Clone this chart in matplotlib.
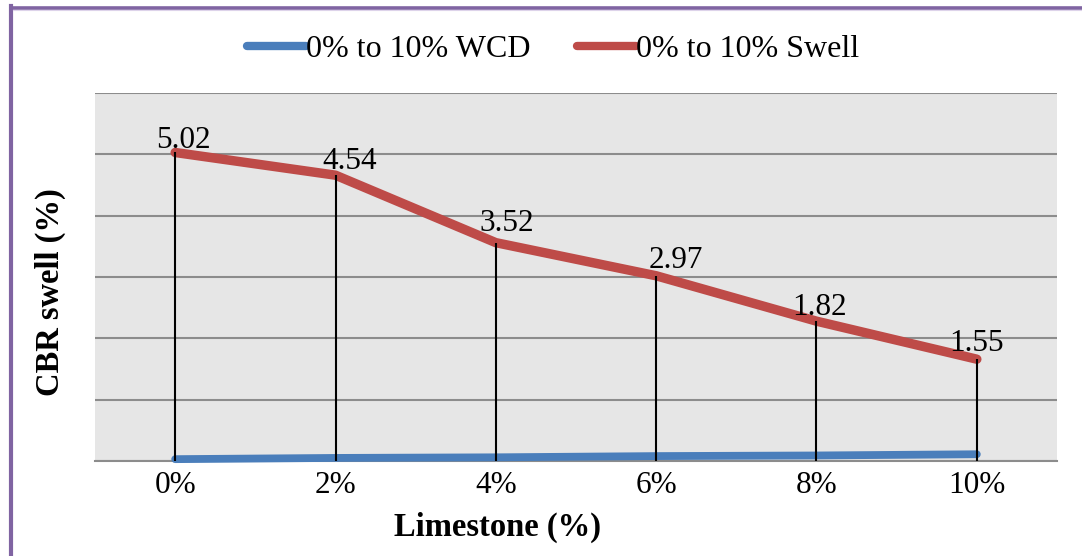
import matplotlib
matplotlib.use("Agg")
import matplotlib.pyplot as plt
from matplotlib.lines import Line2D

# ---- data ----
categories = ["0%", "2%", "4%", "6%", "8%", "10%"]
wcd_values = [0.03, 0.05, 0.06, 0.08, 0.09, 0.11]
swell_values = [5.03, 4.66, 3.56, 3.02, 2.28, 1.66]   # drawn positions
swell_labels = ["5.02", "4.54", "3.52", "2.97", "1.82", "1.55"]
series_names = ["0% to 10% WCD", "0% to 10% Swell"]
x_title = "Limestone (%)"
y_title = "CBR swell (%)"

# label offsets (pixels) relative to each point
label_offsets = [(8, 12), (14, 14), (11, 19), (20, 15), (3, 14), (0, 16)]

plt.rcParams['font.family'] = ['Liberation Serif', 'DejaVu Serif']
FS = 22.5

W, H = 1082, 556
fig = plt.figure(figsize=(W / 100, H / 100), dpi=100)
ax = fig.add_axes([95 / W, 1 - 461 / H, (1057 - 95) / W, (461 - 93) / H])
ax.set_facecolor("#e6e6e6")

x = list(range(len(categories)))
ax.set_xlim(-0.5, len(categories) - 0.5)
ax.set_ylim(0, 6)
ax.set_yticks(range(0, 7))
ax.yaxis.grid(True, color="#8c8c8c", linewidth=1.5)
ax.set_axisbelow(True)
ax.tick_params(axis="y", left=False, labelleft=False)
ax.set_xticks(x)
ax.set_xticklabels(categories, fontsize=FS)
ax.tick_params(axis="x", length=0, pad=7)
for s in ["left", "right", "top"]:
    ax.spines[s].set_visible(False)
ax.spines["bottom"].set_color("#8c8c8c")
ax.spines["bottom"].set_linewidth(1.5)

blue = "#4a7ebb"
red = "#be4b48"
l1, = ax.plot(x, wcd_values, color=blue, lw=5.6, solid_capstyle="round",
              solid_joinstyle="round", zorder=3, clip_on=False)
l2, = ax.plot(x, swell_values, color=red, lw=6.8, solid_capstyle="round",
              solid_joinstyle="round", zorder=3, clip_on=False)
ax.vlines(x, 0, swell_values, color="black", lw=1.5, zorder=4)

for xi, yi, txt, off in zip(x, swell_values, swell_labels, label_offsets):
    ax.annotate(txt, (xi, yi), xytext=off, textcoords="offset pixels",
                ha="center", va="center", fontsize=FS, zorder=5)

leg = fig.legend([l1, l2], series_names, loc="center", bbox_to_anchor=(553 / W, 1 - 49 / H),
                 ncol=2, frameon=False, fontsize=23, handlelength=1.85,
                 handletextpad=0.0, columnspacing=1.45)
for h in leg.get_lines():
    h.set_linewidth(6)
    h.set_solid_capstyle("round")

fig.text(497 / W, 1 - 527 / H, x_title, ha="center", va="center",
         fontsize=23.5, fontweight="bold")
fig.text(50 / W, 1 - 292 / H, y_title, ha="center", va="center",
         fontsize=23.5, fontweight="bold", rotation=90)

# purple frame (top and left edges)
purple = "#8064a2"
fig.add_artist(Line2D([10.5 / W, 1.0], [1 - 7.5 / H, 1 - 7.5 / H], transform=fig.transFigure,
                      color=purple, lw=2.6))
fig.add_artist(Line2D([11 / W, 11 / W], [0, 1 - 6 / H], transform=fig.transFigure,
                      color=purple, lw=3.0))
fig.add_artist(Line2D([13 / W, 1.0], [1 - 10 / H, 1 - 10 / H], transform=fig.transFigure,
                      color="#ddd3ea", lw=0.8))

fig.savefig("out.png", dpi=100)
